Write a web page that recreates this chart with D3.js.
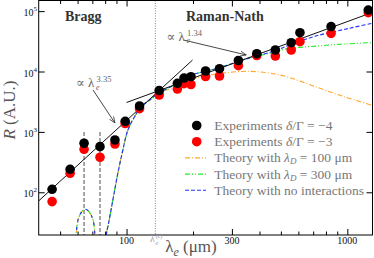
<!DOCTYPE html>
<html>
<head>
<meta charset="utf-8">
<script src="https://d3js.org/d3.v7.min.js"></script>
<style>
  body { margin: 0; background: #fff; }
  svg { display: block; font-family: "Liberation Serif", "DejaVu Serif", serif; }
</style>
</head>
<body>
<div id="chart"></div>
<script>
// measured wavelengths (um) and signals
var lambdaExp = [46.0, 55.5, 64.2, 75.8, 88.6, 98.6, 114.5, 140.6, 169.9, 182, 195.7, 228, 263.6, 321, 389, 472, 557, 610, 844, 1244];
var rDelta4 = [112, 240, 648, 569, 734, 1497, 2684, 4845, 6378, 7800, 8200, 10190, 11130, 15210, 19720, 22700, 29990, 43900, 55600, 104300];
var rDelta3 = [70, 206, 515, 380, 630, 1377, 2423, 4083, 5130, 6280, 6090, 8265, 8430, 12480, 18400, 18060, 22700, 31140, 42880, 94150];

// theory curves (lambda, R)
var theoryHump = [[57.5, 10], [59, 19.6], [60.3, 34.8], [62.5, 47], [65.1, 52.3], [67.5, 48], [70.5, 34.8], [71.9, 19.6], [73, 10]];
var theoryRise = [[80, 10], [80.9, 19.6], [82.9, 30.7], [86.7, 74.6], [91.3, 206], [96.2, 501], [101.4, 1075], [108.7, 1785], [116.4, 2614], [127.4, 3375], [141.3, 4550]];
var tail100 = [[162.3, 5270], [183.3, 6770], [225.6, 8420], [317.8, 9930], [391, 9930], [517.6, 8420], [729.6, 5475], [966, 3828], [1300, 2750]];
var tail300 = [[162.3, 5800], [183.3, 8017], [258, 11300], [361, 16800], [472, 21000], [518, 23330], [729.6, 26440], [966, 28530], [1300, 30100]];
var tailFree = [[162.3, 5800], [183.3, 8017], [258, 11300], [361, 16800], [472, 22100], [557, 28200], [720, 38700], [1018, 51900], [1300, 63200]];

// power-law fits (end points)
var braggFit = [[40, 72], [199, 15500]];
var ramanFit = [[100, 3070], [1300, 95400]];

var lambdaC = 135;
var resonances = [64.2, 75.8];
var xMajor = [100, 300, 1000];
var xMinor = [50, 60, 70, 80, 90, 200, 400, 500, 600, 700, 800, 900];
var yMajor = [1e2, 1e3, 1e4, 1e5];

var W = 374, H = 258;
var L = 38.7, R = 372.5, T = 0.5, B = 235;

var x = d3.scaleLog().domain([40, 1300]).range([L, R]);
var y = d3.scaleLog().domain([19.6, 1.5e5]).range([B, T]);

var svg = d3.select("#chart").append("svg").attr("width", W).attr("height", H);

svg.append("clipPath").attr("id", "clip")
  .append("rect").attr("x", L).attr("y", T).attr("width", R - L).attr("height", B - T);

var plot = svg.append("g").attr("clip-path", "url(#clip)");

// lambda_c dotted line
plot.append("line")
  .attr("x1", x(lambdaC)).attr("x2", x(lambdaC))
  .attr("y1", T).attr("y2", B)
  .attr("stroke", "#888").attr("stroke-width", 1).attr("stroke-dasharray", "1,1.5");

// resonance dashed lines
plot.selectAll(".res").data(resonances).enter().append("line")
  .attr("x1", function(d) { return x(d); }).attr("x2", function(d) { return x(d); })
  .attr("y1", y(1000)).attr("y2", B)
  .attr("stroke", "#777").attr("stroke-width", 1.3).attr("stroke-dasharray", "4,2");

var line = d3.line()
  .x(function(d) { return x(d[0]); })
  .y(function(d) { return y(d[1]); })
  .curve(d3.curveCatmullRom);

var theories = [
  { tail: tail100, color: "#ffa726", dash: "5,2,1,2", offset: 0 },
  { tail: tail300, color: "#22ee22", dash: "5,2,1,2,1,2", offset: 3 },
  { tail: tailFree, color: "#2233ff", dash: "3,5", offset: 1 }
];

theories.forEach(function(t, i) {
  var dash = i === 2 ? "4,2" : t.dash;
  plot.append("path").attr("d", line(theoryHump))
    .attr("fill", "none").attr("stroke", t.color).attr("stroke-width", 1.1)
    .attr("stroke-dasharray", t.dash).attr("stroke-dashoffset", t.offset);
  plot.append("path").attr("d", line(theoryRise.concat(t.tail)))
    .attr("fill", "none").attr("stroke", t.color).attr("stroke-width", 1.1)
    .attr("stroke-dasharray", dash).attr("stroke-dashoffset", t.offset);
});

// fits
[braggFit, ramanFit].forEach(function(f) {
  plot.append("path").attr("d", d3.line().x(function(d) { return x(d[0]); }).y(function(d) { return y(d[1]); })(f))
    .attr("fill", "none").attr("stroke", "#111").attr("stroke-width", 1);
});

// markers
plot.selectAll(".red").data(lambdaExp).enter().append("circle")
  .attr("cx", function(d) { return x(d); })
  .attr("cy", function(d, i) { return y(rDelta3[i]); })
  .attr("r", 4.8).attr("fill", "#ff0000");
plot.selectAll(".blk").data(lambdaExp).enter().append("circle")
  .attr("cx", function(d) { return x(d); })
  .attr("cy", function(d, i) { return y(rDelta4[i]); })
  .attr("r", 4.8).attr("fill", "#000");

// arrows
svg.append("defs").append("marker")
  .attr("id", "arr").attr("viewBox", "0 0 10 10").attr("refX", 10).attr("refY", 5)
  .attr("markerWidth", 7).attr("markerHeight", 7).attr("orient", "auto")
  .append("path").attr("d", "M0,1 L10,5 L0,9").attr("fill", "none").attr("stroke", "#333").attr("stroke-width", 1.2);

var arrows = [[[70.5, 4940], [88.6, 1404]], [[181.4, 33200], [349, 18760]]];
arrows.forEach(function(a) {
  svg.append("line")
    .attr("x1", x(a[0][0])).attr("y1", y(a[0][1]))
    .attr("x2", x(a[1][0])).attr("y2", y(a[1][1]))
    .attr("stroke", "#333").attr("stroke-width", 0.9).attr("marker-end", "url(#arr)");
});

// frame
svg.append("rect").attr("x", L).attr("y", T).attr("width", R - L).attr("height", B - T)
  .attr("fill", "none").attr("stroke", "#000").attr("stroke-width", 1);

// ticks
function xTicks(vals, len) {
  svg.append("g").attr("transform", "translate(0," + B + ")")
    .call(d3.axisBottom(x).tickValues(vals).tickSize(-len).tickFormat(""))
    .call(function(g) { g.select(".domain").remove(); });
  svg.append("g").attr("transform", "translate(0," + T + ")")
    .call(d3.axisTop(x).tickValues(vals).tickSize(-len).tickFormat(""))
    .call(function(g) { g.select(".domain").remove(); });
}
xTicks(xMajor, 6);
xTicks(xMinor, 3.5);

svg.append("g").attr("transform", "translate(" + L + ",0)")
  .call(d3.axisLeft(y).tickValues(yMajor).tickSize(-6).tickFormat(""))
  .call(function(g) { g.select(".domain").remove(); });
svg.append("g").attr("transform", "translate(" + R + ",0)")
  .call(d3.axisRight(y).tickValues(yMajor).tickSize(-6).tickFormat(""))
  .call(function(g) { g.select(".domain").remove(); });

// tick labels
svg.selectAll(".xl").data(xMajor).enter().append("text")
  .attr("x", function(d) { return x(d); }).attr("y", 244)
  .attr("text-anchor", "middle").attr("font-size", 10).attr("fill", "#111")
  .text(function(d) { return d; });

yMajor.forEach(function(v) {
  var t = svg.append("text").attr("x", 37).attr("y", y(v) + 5)
    .attr("text-anchor", "end").attr("font-size", 10).attr("fill", "#111");
  t.append("tspan").text("10");
  t.append("tspan").attr("dy", -5).attr("font-size", 7).text(Math.round(Math.log10(v)));
});

// axis titles
var xt = svg.append("text").attr("x", 191).attr("y", 251.5).attr("text-anchor", "middle")
  .attr("font-size", 17).attr("fill", "#555");
xt.append("tspan").text("λ");
xt.append("tspan").attr("dy", 4).attr("font-size", 12).attr("font-style", "italic").text("e");
xt.append("tspan").attr("dy", -4).text(" (μm)");

var yt = svg.append("text").attr("transform", "translate(15,110) rotate(-90)")
  .attr("text-anchor", "middle").attr("font-size", 17).attr("fill", "#555");
yt.append("tspan").attr("font-style", "italic").text("R");
yt.append("tspan").text(" (A.U.)");

// lambda_c label
svg.append("text").attr("x", 150).attr("y", 242).attr("font-size", 10).attr("fill", "#999").text("λ");
svg.append("text").attr("x", 155.5).attr("y", 244.5).attr("font-size", 6.5).attr("fill", "#999").attr("font-style", "italic").text("e");
svg.append("text").attr("x", 155.5).attr("y", 238).attr("font-size", 6).attr("fill", "#999").text("(c)");

// regime labels
svg.append("text").attr("x", 65).attr("y", 21).attr("font-size", 14).attr("font-weight", "bold").attr("fill", "#333").text("Bragg");
svg.append("text").attr("x", 186).attr("y", 21).attr("font-size", 14).attr("font-weight", "bold").attr("fill", "#333").text("Raman-Nath");

// proportionality labels
function propLabel(px, py, exp) {
  svg.append("text").attr("x", px).attr("y", py).attr("font-size", 13).attr("fill", "#666").text("∝ λ");
  svg.append("text").attr("x", px + 20).attr("y", py + 2.5).attr("font-size", 8).attr("font-style", "italic").attr("fill", "#666").text("e");
  svg.append("text").attr("x", px + 20.5).attr("y", py - 5).attr("font-size", 8.5).attr("fill", "#666").text(exp);
}
propLabel(76, 87, "3.35");
propLabel(166.5, 40.5, "1.34");

// legend
var legendRows = [
  { type: "dot", color: "#000", label: ["Experiments ", ["δ", "i"], "/Γ = −4"] },
  { type: "dot", color: "#ff0000", label: ["Experiments ", ["δ", "i"], "/Γ = −3"] },
  { type: "line", theory: 0, label: ["Theory with ", ["λ", "i"], ["D", "sub"], " = 100 μm"] },
  { type: "line", theory: 1, label: ["Theory with ", ["λ", "i"], ["D", "sub"], " = 300 μm"] },
  { type: "line", theory: 2, label: ["Theory with no interactions"] }
];
legendRows.forEach(function(row, i) {
  var cy = 125.5 + i * 16.2;
  if (row.type === "dot") {
    svg.append("circle").attr("cx", 196.7).attr("cy", cy).attr("r", 4.8).attr("fill", row.color);
  } else {
    var th = theories[row.theory];
    svg.append("line").attr("x1", 185).attr("x2", 206).attr("y1", cy).attr("y2", cy)
      .attr("stroke", th.color).attr("stroke-width", 1.1).attr("stroke-dasharray", row.theory === 2 ? "4,2" : th.dash);
  }
  var t = svg.append("text").attr("x", 214.3).attr("y", cy + 4.5).attr("font-size", 13.5).attr("fill", "#777");
  row.label.forEach(function(p) {
    if (typeof p === "string") { t.append("tspan").text(p); }
    else if (p[1] === "i") { t.append("tspan").attr("font-style", "italic").text(p[0]); }
    else {
      t.append("tspan").attr("font-style", "italic").attr("font-size", 9).attr("baseline-shift", "-25%").text(p[0]);
    }
  });
});
</script>
</body>
</html>
